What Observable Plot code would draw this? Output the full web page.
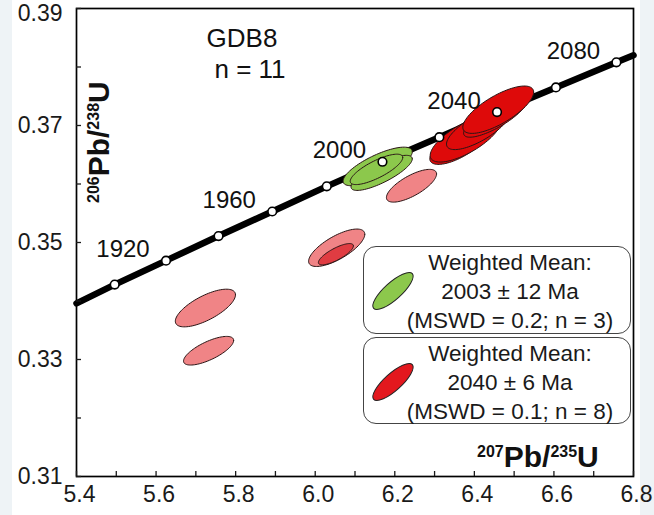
<!DOCTYPE html>
<html><head><meta charset="utf-8">
<script src="https://cdn.jsdelivr.net/npm/d3@7"></script>
<script src="https://cdn.jsdelivr.net/npm/@observablehq/plot@0.6"></script>
<style>
html,body{margin:0;padding:0;background:#eef3f6;}
#wrap{position:relative;width:654px;height:515px;overflow:hidden;}
#white{position:absolute;left:12px;top:0;width:628px;height:515px;background:#fff;}
#chart{position:absolute;left:0;top:0;}
.lg{position:absolute;border:1.3px solid #444;border-radius:13px;background:#fff;box-sizing:border-box;}
.lgt{position:absolute;left:390px;width:240px;text-align:center;font-family:"Liberation Sans",Arial,sans-serif;font-size:22.5px;color:#1a1a1a;line-height:29px;white-space:nowrap;}
.ic{position:absolute;}
</style></head><body>
<div id="wrap">
<div id="white"></div>
<div id="chart"></div>
</div>
<script>
// ---- data ----
const xTickLabels = [5.4, 5.6, 5.8, 6.0, 6.2, 6.4, 6.6, 6.8];
const xMinorTicks = [5.5, 5.7, 5.9, 6.1, 6.3, 6.5, 6.7];
const yTickLabels = [0.31, 0.33, 0.35, 0.37];
const yTopLabel = [0.39];
const yMinorTicks = [0.32, 0.34, 0.36, 0.38];

// concordia curve (age in Ma, 207Pb/235U, 206Pb/238U)
const concAge = [1885, 1900, 1920, 1940, 1960, 1980, 2000, 2020, 2040, 2060, 2080, 2086];
const concX   = [5.400, 5.496, 5.625, 5.757, 5.892, 6.029, 6.169, 6.312, 6.457, 6.605, 6.757, 6.800];
const concY   = [0.3396, 0.3428, 0.3469, 0.3511, 0.3553, 0.3596, 0.3638, 0.3680, 0.3723, 0.3765, 0.3808, 0.3820];
const markedAges = [1900, 1920, 1940, 1960, 1980, 2000, 2020, 2040, 2060, 2080];
const labeledAges = [1920, 1960, 2000, 2040, 2080];

// error ellipses: centre, half-widths, correlation, group
const ellX   = [5.732, 5.724, 6.054, 6.052, 6.242, 6.157, 6.167, 6.154, 6.360, 6.378, 6.410, 6.453, 6.460];
const ellY   = [0.3315, 0.3388, 0.3491, 0.3480, 0.3597, 0.3630, 0.3619, 0.3625, 0.3666, 0.3678, 0.3695, 0.3715, 0.3727];
const ellSx  = [0.0630, 0.0756, 0.0706, 0.0440, 0.0630, 0.0870, 0.0770, 0.0660, 0.0720, 0.0890, 0.0800, 0.0800, 0.0890];
const ellSy  = [0.00245, 0.00322, 0.00320, 0.00182, 0.00280, 0.00330, 0.00300, 0.00260, 0.00325, 0.00405, 0.00362, 0.00350, 0.00405];
const ellRho = [0.72, 0.70, 0.72, 0.78, 0.72, 0.76, 0.80, 0.78, 0.70, 0.72, 0.74, 0.80, 0.74];
const ellGroup = ["pink","pink","pink","inner","pink","green","green","green","red","red","red","red","red"];
const groupColor = {pink: "#f08486", inner: "#e03c42", green: "#8cc84c", red: "#de0a0a"};

const sampleName = "GDB8";
const sampleN = "n = 11";
const legend1 = ["Weighted Mean:", "2003 ± 12 Ma", "(MSWD = 0.2; n = 3)"];
const legend2 = ["Weighted Mean:", "2040 ± 6 Ma", "(MSWD = 0.1; n = 8)"];

// ---- build tables ----
const conc = concAge.map((a, i) => ({age: a, x: concX[i], y: concY[i]}));
const dots = conc.filter(d => markedAges.includes(d.age));
const labs = conc.filter(d => labeledAges.includes(d.age));
const N = 90;
const ellPts = [];
ellX.forEach((cx, i) => {
  const r = ellRho[i], q = Math.sqrt(1 - r * r);
  for (let k = 0; k <= N; k++) {
    const t = 2 * Math.PI * k / N;
    ellPts.push({id: i, color: groupColor[ellGroup[i]],
      x: cx + ellSx[i] * Math.cos(t),
      y: ellY[i] + ellSy[i] * (r * Math.cos(t) + q * Math.sin(t))});
  }
});

const FONT = '"Liberation Sans", Arial, sans-serif';
const plot = Plot.plot({
  width: 654, height: 515,
  marginLeft: 76, marginRight: 21, marginTop: 8, marginBottom: 39,
  x: {domain: [5.4, 6.8], label: null},
  y: {domain: [0.31, 0.39], label: null},
  style: {fontFamily: FONT, fontSize: "23px", background: "transparent", color: "#1a1a1a", overflow: "visible"},
  marks: [
    Plot.line(conc, {x: "x", y: "y", stroke: "black", strokeWidth: 6.5}),
    Plot.line(ellPts, {x: "x", y: "y", z: "id", fill: "color", stroke: "#2a1515", strokeWidth: 1}),
    Plot.dot(dots, {x: "x", y: "y", r: 4.3, fill: "white", stroke: "black", strokeWidth: 1.6}),
    Plot.text(labs, {x: "x", y: "y", text: d => String(d.age), dx: -43, dy: -11, fontSize: 24, fill: "#111"}),
    Plot.frame({stroke: "black", strokeWidth: 1.7}),
    Plot.axisX([...xTickLabels, ...xMinorTicks], {tickSize: -5, tickFormat: () => "", strokeWidth: 1.3, label: null}),
    Plot.axisX(xTickLabels, {tickSize: 0, tickPadding: 9, dx: 3, tickFormat: d => d.toFixed(1), label: null, fontSize: 23}),
    Plot.axisY([...yTickLabels, ...yTopLabel, ...yMinorTicks], {tickSize: -5, tickFormat: () => "", strokeWidth: 1.3, label: null}),
    Plot.axisY(yTickLabels, {tickSize: 0, tickPadding: 14, tickFormat: d => d.toFixed(2), label: null, fontSize: 23}),
    Plot.axisY(yTopLabel, {tickSize: 0, tickPadding: 14, dy: 5, tickFormat: d => d.toFixed(2), label: null, fontSize: 23})
  ]
});
document.getElementById("chart").appendChild(plot);

const svg = d3.select(plot);
function isoTitle(sel, a, b, c, d) {
  sel.attr("font-family", FONT).attr("font-weight", "bold").attr("fill", "#111").attr("text-anchor", "start");
  sel.append("tspan").attr("font-size", 16).attr("dy", -10).text(a);
  sel.append("tspan").attr("font-size", 30).attr("dy", 10).text(b);
  sel.append("tspan").attr("font-size", 16).attr("dy", -10).text(c);
  sel.append("tspan").attr("font-size", 30).attr("dy", 10).text(d);
}
isoTitle(svg.append("text").attr("x", 477).attr("y", 467), "207", "Pb/", "235", "U");
isoTitle(svg.append("text").attr("transform", "translate(109,203) rotate(-90)"), "206", "Pb/", "238", "U");
svg.append("text").attr("x", 242).attr("y", 47).attr("text-anchor", "middle")
  .attr("font-family", FONT).attr("font-size", 26).attr("fill", "#111").text(sampleName);
svg.append("text").attr("x", 250).attr("y", 78).attr("text-anchor", "middle")
  .attr("font-family", FONT).attr("font-size", 26).attr("fill", "#111").text(sampleN);

// legend boxes
const wrap = document.getElementById("wrap");
function box(top, h, lines, color) {
  const b = document.createElement("div");
  b.className = "lg";
  Object.assign(b.style, {left: "363px", top: top + "px", width: "268px", height: h + "px"});
  wrap.appendChild(b);
  const t = document.createElement("div");
  t.className = "lgt";
  t.style.top = (top + 2) + "px";
  t.innerHTML = lines.map(s => `<div>${s}</div>`).join("");
  wrap.appendChild(t);
  const ic = document.createElementNS("http://www.w3.org/2000/svg", "svg");
  ic.setAttribute("class", "ic");
  ic.setAttribute("width", 60); ic.setAttribute("height", 50);
  ic.style.left = "365px"; ic.style.top = (top + 21) + "px";
  ic.innerHTML = `<ellipse cx="28" cy="24" rx="26" ry="8.5" transform="rotate(-42 28 24)" fill="${color}" stroke="#222" stroke-width="1"/>`;
  wrap.appendChild(ic);
}
box(246, 88, legend1, groupColor.green);
box(337, 87, legend2, "#e3181e");
</script>
</body></html>
